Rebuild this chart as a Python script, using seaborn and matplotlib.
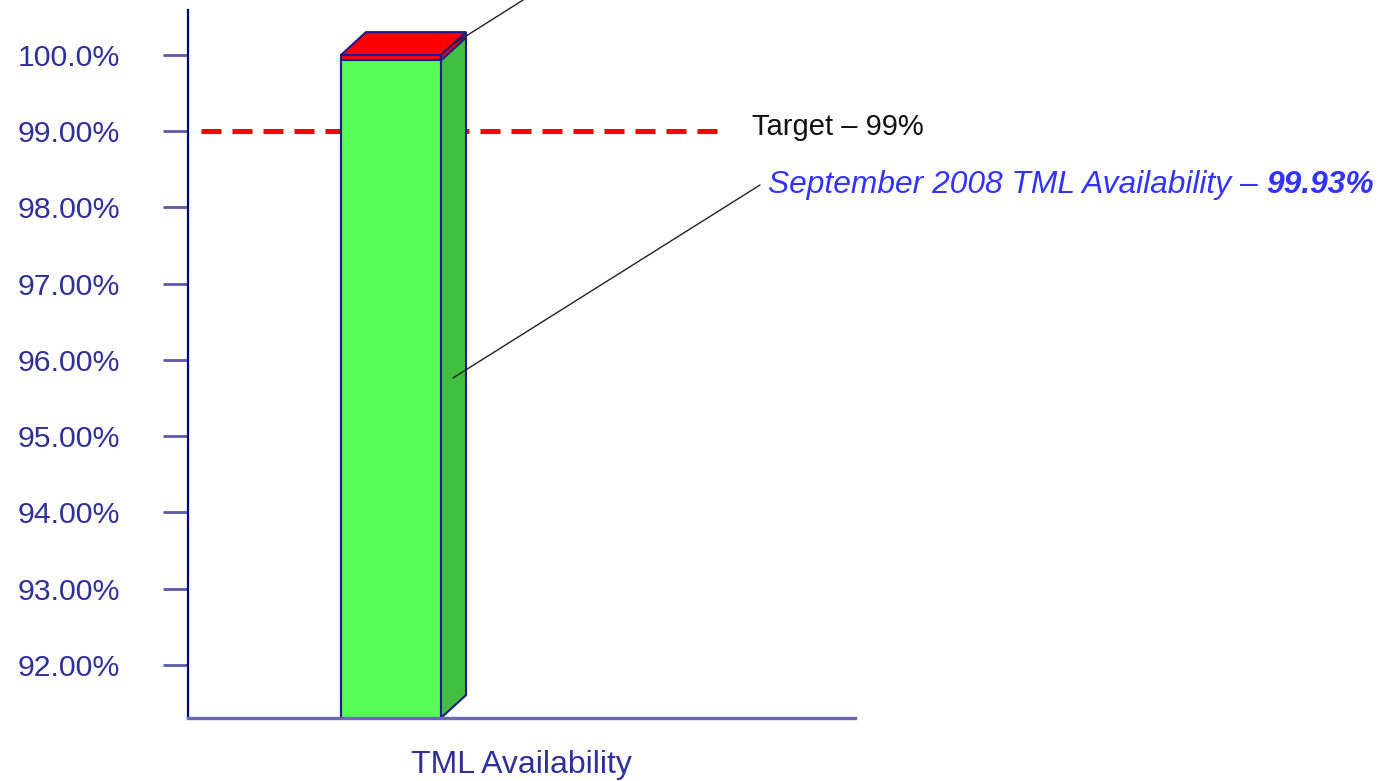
import matplotlib
matplotlib.use('Agg')
import matplotlib.pyplot as plt
import seaborn as sns
import pandas as pd
from matplotlib.patches import Polygon
from matplotlib.ticker import FixedLocator, FixedFormatter

# Data
categories = ['TML Availability']
availability = [99.93]
total = [100.0]
target = 99.0
tick_values = [92, 93, 94, 95, 96, 97, 98, 99, 100]
tick_labels = ['92.00%', '93.00%', '94.00%', '95.00%', '96.00%', '97.00%', '98.00%', '99.00%', '100.0%']
target_label = 'Target \u2013 99%'
month_label = 'September 2008 TML Availability \u2013 '
value_label = '99.93%'

df = pd.DataFrame({'cat': categories, 'avail': availability, 'total': total})

sns.set_theme(style='white')
plt.rcParams['font.family'] = ['Liberation Sans', 'DejaVu Sans']

navy = '#1c1c8c'
tick_col = '#30309a'

fig = plt.figure(figsize=(13.8, 7.81), dpi=100)
ax = fig.add_axes([0.1362, 0.0807, 0.4834, 0.9065])

# front faces: red total, green availability over it
sns.barplot(data=df, x='cat', y='total', color='#ff0000', saturation=1, width=0.5,
            edgecolor=navy, linewidth=1.5, zorder=2, ax=ax)
sns.barplot(data=df, x='cat', y='avail', color='#55ff55', saturation=1, width=0.5,
            edgecolor=navy, linewidth=1.5, zorder=3, ax=ax)

ax.set_ylim(91.305, 100.59)
ax.set_xlim(-1.015, 2.32)

# 3D depth faces
dx, dy = 0.125, 0.30
ybot = 91.305
red_bar, green_bar = ax.patches[0], ax.patches[1]
x1 = green_bar.get_x() + green_bar.get_width()
x0 = green_bar.get_x()
ga = green_bar.get_height()
tt = red_bar.get_height()
ax.add_patch(Polygon([(x1, ybot), (x1, ga), (x1 + dx, ga + dy), (x1 + dx, ybot + dy)],
                     closed=True, facecolor='#40bf40', edgecolor=navy, lw=1.5, zorder=3))
ax.add_patch(Polygon([(x1, ga), (x1, tt), (x1 + dx, tt + dy), (x1 + dx, ga + dy)],
                     closed=True, facecolor='#ff0000', edgecolor=navy, lw=1.5, zorder=3, clip_on=False))
ax.add_patch(Polygon([(x0, tt), (x1, tt), (x1 + dx, tt + dy), (x0 + dx, tt + dy)],
                     closed=True, facecolor='#ff0000', edgecolor=navy, lw=1.5, zorder=3, clip_on=False))

# target line
ax.plot([-0.95, 1.67], [target, target], color='#ff0000', lw=3.6,
        linestyle=(0, (4, 2.2)), dash_capstyle='butt', zorder=1)
ax.text(1.805, target + 0.05, target_label, fontsize=21, color='#111111', va='center', ha='left')

# leader lines
ax.plot([0.31, 1.845], [95.764, 98.295], color='#222222', lw=1, zorder=4, clip_on=False)
ax.plot([0.32, 0.76], [100.157, 100.886], color='#222222', lw=1, zorder=4, clip_on=False)

t = ax.text(1.885, 98.29, month_label, fontsize=22.9, color='#3333ff', style='italic',
            va='center', ha='left')
fig.canvas.draw()
bb = t.get_window_extent().transformed(ax.transData.inverted())
ax.text(bb.x1, 98.29, value_label, fontsize=22.9, color='#3333ff', style='italic',
        weight='bold', va='center', ha='left')

# axes styling
for s in ['top', 'right']:
    ax.spines[s].set_visible(False)
ax.spines['left'].set_color('#000080')
ax.spines['left'].set_linewidth(1.6)
ax.spines['bottom'].set_color('#6a6ab4')
ax.spines['bottom'].set_linewidth(2.4)
ax.spines['left'].set_zorder(5)
ax.spines['bottom'].set_zorder(5)

ax.yaxis.set_major_locator(FixedLocator(tick_values))
ax.yaxis.set_major_formatter(FixedFormatter(tick_labels))
ax.tick_params(axis='y', direction='out', length=18, width=2, color='#5a5aaa',
               labelsize=21.8, labelcolor=tick_col, pad=31, left=True)
ax.set_xticks([])
ax.set_ylabel('')
ax.set_xlabel(categories[0], fontsize=23, color=tick_col, labelpad=23)

fig.savefig('out.png', dpi=100)
